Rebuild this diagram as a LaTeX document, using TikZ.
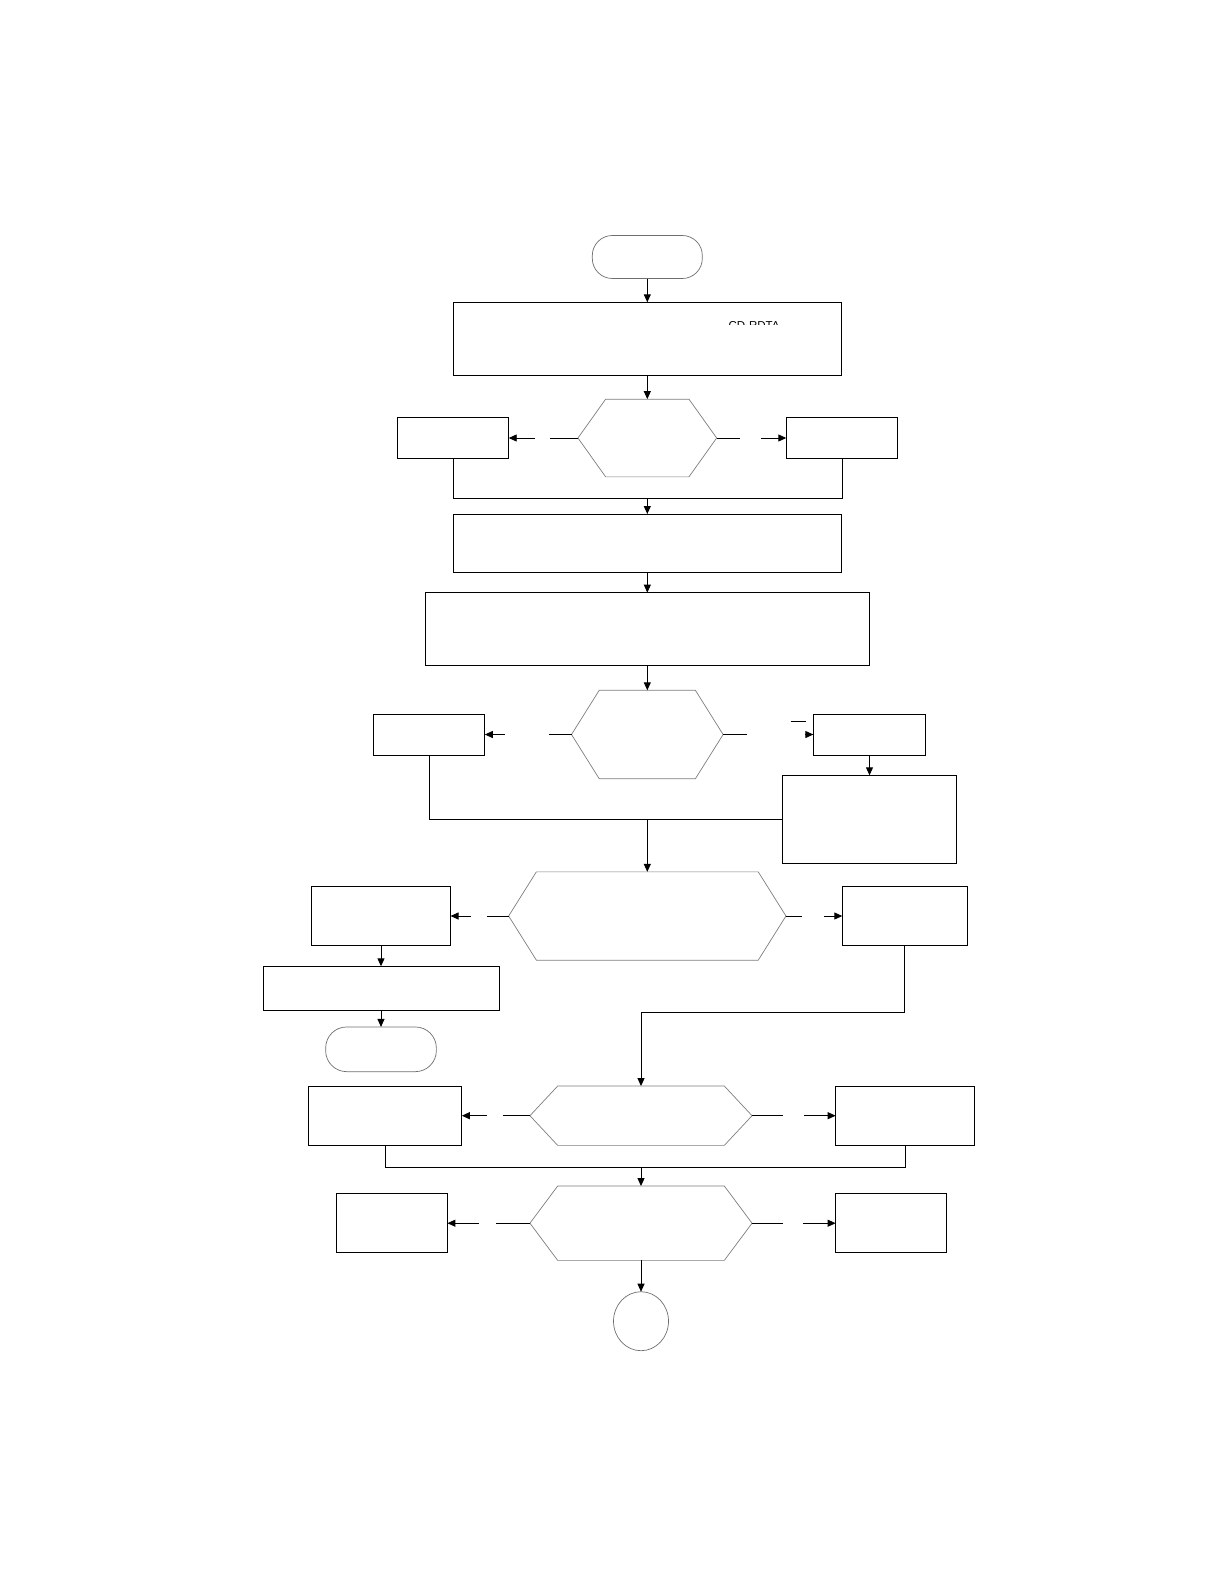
\documentclass[tikz,border=0pt]{standalone}
\usepackage{fontspec}
\setmainfont{Liberation Sans}
\usetikzlibrary{arrows.meta,shapes.geometric}
\definecolor{hexGray}{RGB}{125,125,125}
\definecolor{termGray}{RGB}{110,110,110}

\begin{document}
\begin{tikzpicture}[x=1pt,y=-1pt,
  box/.style={draw,line width=0.9pt,inner sep=0pt,outer sep=0pt},
  hexbox/.style={inner sep=0pt,outer sep=0pt},
  term/.style={draw=termGray,line width=0.7pt,inner sep=0pt,outer sep=0pt},
  conn/.style={line width=0.9pt},
  arr/.style={conn,-{Triangle[length=8pt,width=7pt]}},
  lblgap/.style={fill=white,inner sep=0pt,minimum height=6pt,minimum width=#1}]
  \useasboundingbox (0,0) rectangle (1224,1584);

  % top part
  \node[term,rounded corners=20pt,minimum width=110,minimum height=43] (tStart) at (647.3,257) {};
  \node[box,minimum width=388.4,minimum height=73] (bA) at (647.3,338.8) {};
  \begin{scope}
    \clip (700,312) rectangle (800,324.8);
    \node[anchor=north,inner sep=0pt,font=\fontsize{11.5}{13}\selectfont] (lblCD) at (754,321.7) {CD-RDTA};
  \end{scope}
  \node[hexbox,minimum width=138.7,minimum height=77.7] (hA) at (647.3,438) {};
  \node[box,minimum width=111.4,minimum height=41] (lA) at (453,438) {};
  \node[box,minimum width=111.4,minimum height=41] (rA) at (842,438) {};
  \coordinate (mA) at (647.3,498.3);
  \node[box,minimum width=388,minimum height=58.6] (bB) at (647.3,543.3) {};
  \node[box,minimum width=444.3,minimum height=72.7] (bC) at (647.3,629) {};

  % second decision
  \node[hexbox,minimum width=151.6,minimum height=88.4] (hB) at (647.3,734.5) {};
  \node[box,minimum width=111.4,minimum height=41] (lB) at (429.1,734.5) {};
  \node[box,minimum width=112.3,minimum height=41] (rB) at (869.5,734.5) {};
  \node[box,minimum width=174,minimum height=88.2] (bD) at (869.5,819.4) {};
  \coordinate (mB) at (647.3,819.4);

  % third decision
  \node[hexbox,minimum width=277.3,minimum height=88.3] (hC) at (647.3,916) {};
  \node[box,minimum width=139,minimum height=59] (lC) at (381,916) {};
  \node[box,minimum width=125,minimum height=59] (rC) at (904.8,916) {};
  \node[box,minimum width=236,minimum height=44] (bE) at (381,988.3) {};
  \node[term,rounded corners=21pt,minimum width=110.7,minimum height=44.7] (tEnd) at (381,1049.3) {};
  \coordinate (mC) at (641,1012.3);

  % lower decisions
  \node[hexbox,minimum width=222.1,minimum height=59.3] (hD) at (641,1115.7) {};
  \node[box,minimum width=153.6,minimum height=59.3] (lD) at (385,1115.7) {};
  \node[box,minimum width=138.7,minimum height=59.3] (rD) at (905,1115.7) {};
  \coordinate (mD) at (641,1167.3);
  \node[hexbox,minimum width=222.1,minimum height=74.3] (hE) at (641,1223.2) {};
  \node[box,minimum width=111,minimum height=59] (lE) at (391.9,1223.2) {};
  \node[box,minimum width=111,minimum height=59] (rE) at (891.1,1223.2) {};
  \node[term,ellipse,minimum width=55,minimum height=59] (eStop) at (641,1321.2) {};

  % hexagon outlines
  \foreach \h in {hA,hB,hC,hD,hE}
    \draw[hexGray,line width=0.7pt] (\h.west) -- ([xshift=27.7]\h.north west)
      -- ([xshift=-27.7]\h.north east) -- (\h.east)
      -- ([xshift=-27.7]\h.south east) -- ([xshift=27.7]\h.south west) -- cycle;

  % connectors
  \draw[arr] (tStart) -- (bA);
  \draw[arr] (bA) -- (hA);
  \draw[arr] (hA.west) -- node[lblgap=15,pos=0.512] (gA1) {} (lA.east);
  \draw[arr] (hA.east) -- node[lblgap=21,pos=0.486] (gA2) {} (rA.west);
  \draw[conn] (lA.south) |- (mA) -| (rA.south);
  \draw[arr] (mA) -- (bB);
  \draw[arr] (bB) -- (bC);
  \draw[arr] (bC) -- (hB);
  \draw[arr] (hB.west) -- node[lblgap=44,pos=0.512] (gB1) {} (lB.east);
  \draw[arr] (hB.east) -- node[lblgap=58.5,pos=0.585] (gB2) {} (rB.west);
  \draw[conn] (790.5,721.7) -- (805.8,721.7);
  \draw[arr] (rB) -- (bD);
  \draw[conn] (lB.south) |- (bD.west);
  \draw[arr] (mB) -- (hC);
  \draw[arr] (hC.west) -- node[lblgap=16,pos=0.511] (gC1) {} (lC.east);
  \draw[arr] (hC.east) -- node[lblgap=22,pos=0.488] (gC2) {} (rC.west);
  \draw[arr] (lC) -- (bE);
  \draw[arr] (bE) -- (tEnd);
  \draw[arr] (rC.south) |- (mC) -- (hD.north);
  \draw[arr] (hD.west) -- node[lblgap=16,pos=0.512] (gD1) {} (lD.east);
  \draw[arr] (hD.east) -- node[lblgap=21,pos=0.497] (gD2) {} (rD.west);
  \draw[conn] (lD.south) |- (mD) -| (rD.south);
  \draw[arr] (mD) -- (hE);
  \draw[arr] (hE.west) -- node[lblgap=17,pos=0.513] (gE1) {} (lE.east);
  \draw[arr] (hE.east) -- node[lblgap=20,pos=0.49] (gE2) {} (rE.west);
  \draw[arr] (hE) -- (eStop);
\end{tikzpicture}
\end{document}
